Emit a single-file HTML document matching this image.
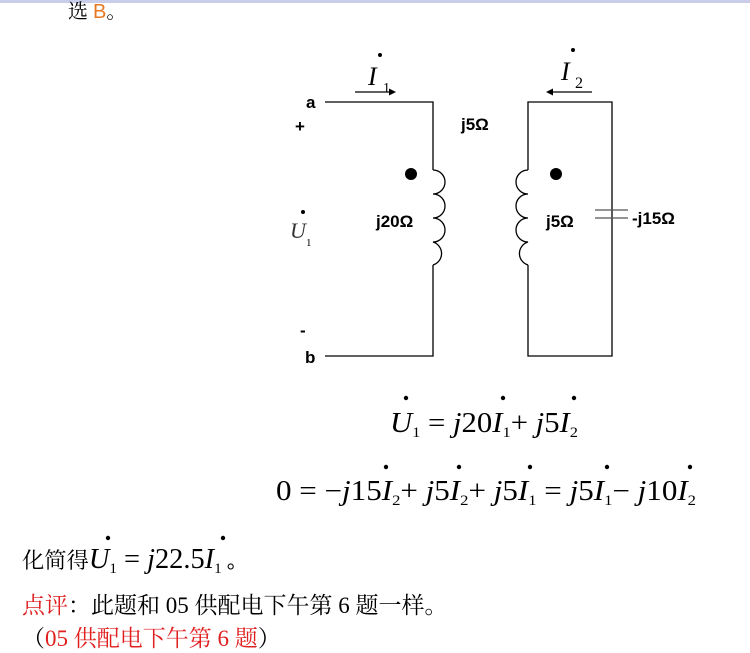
<!DOCTYPE html><html><head><meta charset="utf-8"><style>
body{margin:0;width:750px;height:647px;background:#fff;overflow:hidden;position:relative;font-family:"Liberation Serif","Noto Serif CJK SC",serif}
.t{position:absolute;white-space:nowrap}
</style></head><body>
<div style="position:absolute;left:0;top:0;width:750px;height:3px;background:#c9cdea"></div>
<div class="t" style="left:68px;top:0px;font-size:20px;line-height:24px">选 <span style="color:#e87722;font-family:'Liberation Sans',sans-serif">B</span>。</div>
<svg width="750" height="647" style="position:absolute;left:0;top:0" font-family="Liberation Sans, sans-serif">
<g stroke="#000" stroke-width="1.3" fill="none">
<path d="M325 102H433V170"/><path d="M433 265V356H325"/>
<path d="M433 170a12 12 0 0 1 0 24a12 12 0 0 1 0 24a12 12 0 0 1 0 24a12 12 0 0 1 0 23"/>
<path d="M528 170V102H612V356H528V265"/>
<path d="M528 170a12 12 0 0 0 0 24a12 12 0 0 0 0 24a12 12 0 0 0 0 24a12 12 0 0 0 0 23"/>
<path d="M595 210H628M595 218H628" stroke="#555"/>
<path d="M355 92H392M550 92H592"/>
</g>
<path d="M396 92l-7-3.5v7z"/><path d="M546 92l7-3.5v7z"/>
<circle cx="411" cy="174" r="6"/><circle cx="556" cy="174" r="6"/>
<g font-weight="bold" font-size="17">
<text x="306" y="108">a</text><text x="295" y="132">+</text><text x="300" y="336">-</text><text x="305" y="363">b</text>
<text x="461" y="130">j5Ω</text><text x="376" y="227">j20Ω</text><text x="546" y="227">j5Ω</text><text x="632" y="224">-j15Ω</text>
</g>
<g font-family="Liberation Serif, serif">
<circle cx="380" cy="55" r="2"/><text x="368" y="85" font-size="26" font-style="italic">I</text><text x="383" y="92" font-size="14">1</text>
<circle cx="573" cy="50" r="2"/><text x="561" y="80" font-size="26" font-style="italic">I</text><text x="575" y="88" font-size="16">2</text>
<circle cx="303" cy="212" r="2"/><text x="290" y="238" font-size="22" font-style="italic" fill="#333">U</text><text x="306" y="246" font-size="11">1</text>
</g>
</svg>
<svg width="750" height="647" style="position:absolute;left:0;top:0" font-family="Liberation Serif, serif" font-size="28">
<g>
<circle cx="406" cy="398" r="2.2"/><circle cx="503" cy="398" r="2.2"/><circle cx="574" cy="398" r="2.2"/>
<text x="390" y="432" textLength="188" lengthAdjust="spacingAndGlyphs"><tspan font-style="italic">U</tspan><tspan font-size="15" dy="5">1</tspan><tspan dy="-5"> = </tspan><tspan font-style="italic">j</tspan>20<tspan font-style="italic">I</tspan><tspan font-size="15" dy="5">1</tspan><tspan dy="-5">+ </tspan><tspan font-style="italic">j</tspan>5<tspan font-style="italic">I</tspan><tspan font-size="15" dy="5">2</tspan></text>
<circle cx="386" cy="467" r="2.2"/><circle cx="459" cy="467" r="2.2"/><circle cx="530" cy="467" r="2.2"/><circle cx="607" cy="467" r="2.2"/><circle cx="690" cy="467" r="2.2"/>
<text x="276" y="500" textLength="420" lengthAdjust="spacingAndGlyphs">0 = −<tspan font-style="italic">j</tspan>15<tspan font-style="italic">I</tspan><tspan font-size="15" dy="5">2</tspan><tspan dy="-5">+ </tspan><tspan font-style="italic">j</tspan>5<tspan font-style="italic">I</tspan><tspan font-size="15" dy="5">2</tspan><tspan dy="-5">+ </tspan><tspan font-style="italic">j</tspan>5<tspan font-style="italic">I</tspan><tspan font-size="15" dy="5">1</tspan><tspan dy="-5"> = </tspan><tspan font-style="italic">j</tspan>5<tspan font-style="italic">I</tspan><tspan font-size="15" dy="5">1</tspan><tspan dy="-5">− </tspan><tspan font-style="italic">j</tspan>10<tspan font-style="italic">I</tspan><tspan font-size="15" dy="5">2</tspan></text>
<circle cx="108" cy="538" r="2.2"/><circle cx="223" cy="538" r="2.2"/>
<text x="22" y="568" textLength="225" lengthAdjust="spacingAndGlyphs"><tspan font-family="Liberation Serif, Noto Serif CJK SC, serif" font-size="22">化简得</tspan><tspan font-style="italic">U</tspan><tspan font-size="15" dy="5">1</tspan><tspan dy="-5"> = </tspan><tspan font-style="italic">j</tspan>22.5<tspan font-style="italic">I</tspan><tspan font-size="15" dy="5">1</tspan><tspan dy="-5" font-size="20"> 。</tspan></text>
</g>
</svg>
<div class="t" style="left:22px;top:592px;font-size:23px;line-height:28px"><span style="color:#e02020">点评</span>：此题和 05 供配电下午第 6 题一样。</div>
<div class="t" style="left:22px;top:625px;font-size:23px;line-height:28px">（<span style="color:#e02020">05 供配电下午第 6 题</span>）</div>
</body></html>
